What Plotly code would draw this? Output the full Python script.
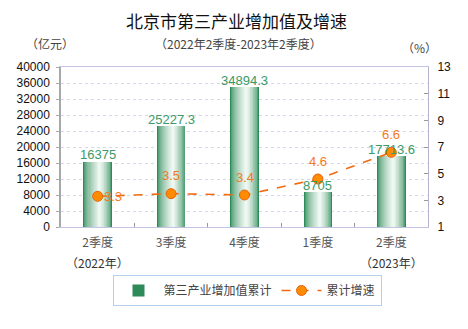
import plotly.graph_objects as go

# Quarterly data: Beijing tertiary industry value added (cumulative) and growth
quarters = ["2季度", "3季度", "4季度", "1季度", "2季度"]
year_labels = {0: "（2022年）", 4: "（2023年）"}
value_added = [16375, 25227.3, 34894.3, 8705, 17713.6]   # 亿元
growth_rate = [3.3, 3.5, 3.4, 4.6, 6.6]                   # %

x_pos = list(range(len(quarters)))

BAR_W = 0.39
N_LAYERS = 16
LIGHT_AT = 0.57  # fraction across the bar where the highlight sits
dark = (46, 138, 88)
light = (246, 252, 248)


def mix(t):
    r, g, b = (round(dark[i] + (light[i] - dark[i]) * t) for i in range(3))
    return f"rgb({r},{g},{b})"


fig = go.Figure()

# Cylinder-like shaded bars: stacked overlaid bars of shrinking width
for k in range(N_LAYERS):
    frac = k / N_LAYERS
    w = BAR_W * (1 - frac)
    off = -BAR_W / 2 + (BAR_W - w) * LIGHT_AT
    t = frac ** 0.6
    fig.add_trace(go.Bar(
        x=x_pos, y=value_added,
        width=w, offset=off,
        marker=dict(color=mix(t), line=dict(width=0)),
        name="第三产业增加值累计",
        showlegend=(k == 0),
        legendrank=1,
        hoverinfo="skip" if k else None,
    ))

fig.add_trace(go.Scatter(
    x=x_pos, y=growth_rate, yaxis="y2",
    mode="lines+markers",
    name="累计增速",
    legendrank=2,
    line=dict(color="#f26a10", width=1.6, dash="dash"),
    marker=dict(size=10, color="#ff8c00", line=dict(color="#e8600a", width=1)),
    cliponaxis=False,
))

annotations = [
    dict(text="北京市第三产业增加值及增速", xref="paper", yref="paper",
         x=(236 - 61) / 367, y=1 + (67 - 20) / 160, showarrow=False,
         xanchor="center", yanchor="middle",
         font=dict(family="Noto Sans CJK SC", size=17, color="#111")),
    dict(text="（2022年2季度-2023年2季度）", xref="paper", yref="paper",
         x=(238 - 61) / 367, y=1 + (67 - 43) / 160, showarrow=False,
         xanchor="center", yanchor="middle",
         font=dict(family="Noto Sans CJK SC", size=12, color="#444")),
    dict(text="（亿元）", xref="paper", yref="paper",
         x=(50 - 61) / 367, y=1 + (67 - 43) / 160, showarrow=False,
         xanchor="center", yanchor="middle",
         font=dict(family="Noto Sans CJK SC", size=12, color="#444")),
    dict(text="（%）", xref="paper", yref="paper",
         x=(419 - 61) / 367, y=1 + (67 - 47) / 160, showarrow=False,
         xanchor="center", yanchor="middle",
         font=dict(family="Noto Sans CJK SC", size=12, color="#444")),
]
for i, txt in year_labels.items():
    annotations.append(dict(
        text=txt, x=x_pos[i], xref="x", yref="paper", y=-(262 - 227) / 160,
        showarrow=False, xanchor="center", yanchor="middle",
        font=dict(family="Noto Sans CJK SC", size=12, color="#333")))

# Bar value labels just above each bar top
for i, v in enumerate(value_added):
    annotations.append(dict(
        text=f"{v:g}", x=x_pos[i], y=v, xref="x", yref="y",
        showarrow=False, xanchor="center", yanchor="middle", yshift=7,
        font=dict(family="Arial, Liberation Sans", size=13, color="#3a9a68")))

# Growth-rate value labels: first one to the right of its marker, rest above
for i, v in enumerate(growth_rate):
    first = i == 0
    annotations.append(dict(
        text=f"{v:g}", x=x_pos[i], y=v, xref="x", yref="y2",
        showarrow=False,
        xanchor="left" if first else "center", yanchor="middle",
        xshift=4 if first else 0, yshift=0 if first else 18,
        font=dict(family="Arial, Liberation Sans", size=13, color="#f47920")))

fig.update_layout(
    width=468, height=329,
    margin=dict(l=61, r=40, t=67, b=102),
    paper_bgcolor="white", plot_bgcolor="white",
    barmode="overlay",
    bargap=0,
    showlegend=True,
    xaxis=dict(
        range=[-0.5, 4.5],
        tickvals=x_pos, ticktext=quarters,
        ticks="", showgrid=False, ticklabelstandoff=5,
        showline=True, linecolor="#c4c4e2", linewidth=1, mirror=True,
        tickfont=dict(family="Noto Sans CJK SC", size=12, color="#555"),
        minor=dict(tickvals=[0.5, 1.5, 2.5, 3.5], ticks="inside",
                   ticklen=4, tickcolor="#999", showgrid=False),
        zeroline=False,
    ),
    yaxis=dict(
        range=[0, 40000], dtick=4000, tickformat="d",
        showgrid=True, gridcolor="#d6d6ec", griddash="dot", gridwidth=1,
        showline=True, linecolor="#a8a8a8", linewidth=1.5,
        ticks="outside", ticklen=3, tickcolor="#a8a8a8", ticklabelstandoff=4,
        tickfont=dict(family="Arial, Liberation Sans", size=12, color="#111"),
        zeroline=False,
    ),
    yaxis2=dict(
        range=[1, 13], tick0=1, dtick=2, overlaying="y", side="right",
        showgrid=False, showline=True, linecolor="#b4b4d0", linewidth=1,
        ticks="inside", ticklen=4, tickcolor="#999", ticklabelstandoff=6,
        tickfont=dict(family="Arial, Liberation Sans", size=12, color="#111"),
        zeroline=False,
    ),
    legend=dict(
        orientation="h", x=(247 - 61) / 367, xanchor="center",
        y=-(275 - 227) / 160, yanchor="top",
        bordercolor="#b4d0ec", borderwidth=1, bgcolor="white",
        font=dict(family="Noto Sans CJK SC", size=12, color="#444"),
        itemwidth=40,
    ),
    annotations=annotations,
)

fig.write_html("out.html")
